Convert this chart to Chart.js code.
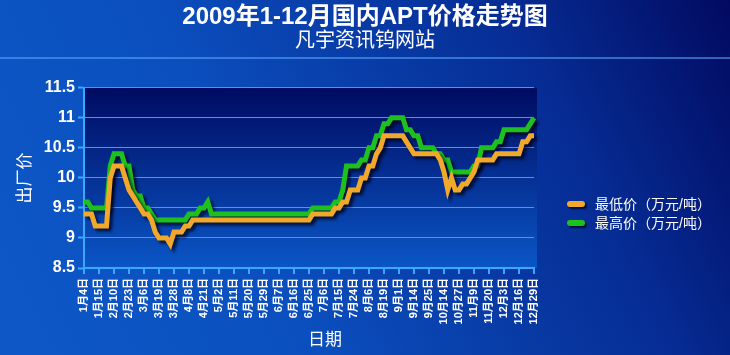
<!DOCTYPE html>
<html><head><meta charset="utf-8">
<script src="https://cdn.jsdelivr.net/npm/chart.js@4.4.0/dist/chart.umd.min.js"></script>
<style>html,body{margin:0;padding:0;background:#0a3aa8;overflow:hidden}#wrap{width:730px;height:355px;position:relative}</style>
</head><body><div id="wrap"><canvas id="c" width="730" height="355"></canvas></div>
<script>
const tickLabels = ['1月4日','1月15日','2月10日','2月23日','3月6日','3月19日','3月28日','4月8日','4月21日','5月2日','5月11日','5月20日','5月29日','6月7日','6月16日','6月25日','7月6日','7月15日','7月24日','8月6日','8月19日','9月1日','9月14日','9月25日','10月14日','10月27日','11月9日','11月20日','12月3日','12月16日','12月29日'];
const pointsPerLabel = 4;
const lowPrice = [
9.4,9.4,9.4,
9.2,9.2,9.2,9.2,
10.0,
10.2,10.2,10.2,
10.0,9.8,9.7,9.6,9.5,
9.4,9.4,9.3,9.1,
9.0,9.0,9.0,8.9,
9.1,9.1,9.1,9.2,9.2,
9.3,9.3,9.3,9.3,9.3,9.3,9.3,9.3,9.3,9.3,9.3,9.3,9.3,9.3,9.3,9.3,9.3,9.3,9.3,9.3,9.3,9.3,9.3,9.3,9.3,9.3,9.3,9.3,9.3,9.3,9.3,9.3,
9.4,9.4,9.4,9.4,9.4,9.4,
9.5,9.5,9.6,9.6,
9.8,9.8,9.8,10.0,10.0,10.2,10.2,10.4,10.5,
10.7,10.7,10.7,10.7,10.7,10.7,
10.6,10.5,
10.4,10.4,10.4,10.4,10.4,10.4,10.4,
10.3,10.1,9.8,10.0,9.8,9.8,9.9,9.9,10.0,10.1,
10.3,10.3,10.3,10.3,10.3,
10.4,10.4,10.4,10.4,10.4,10.4,10.4,
10.6,10.6,10.7,10.7
];
const highPrice = [
9.6,9.6,
9.5,9.5,9.5,9.5,9.5,
10.2,
10.4,10.4,10.4,
10.2,10.2,9.8,9.7,9.7,
9.5,9.5,9.4,
9.3,9.3,9.3,9.3,9.3,9.3,9.3,9.3,9.3,
9.4,9.4,9.4,9.5,9.5,9.6,
9.4,9.4,9.4,9.4,9.4,9.4,9.4,9.4,9.4,9.4,9.4,9.4,9.4,9.4,9.4,9.4,9.4,9.4,9.4,9.4,9.4,9.4,9.4,9.4,9.4,9.4,9.4,
9.5,9.5,9.5,9.5,9.5,9.5,
9.6,9.6,9.8,
10.2,10.2,10.2,10.2,10.3,10.3,10.5,10.5,10.7,10.7,10.9,10.9,
11.0,11.0,11.0,11.0,
10.8,10.8,10.7,10.7,
10.5,10.5,10.5,10.5,10.4,10.4,10.3,10.3,
10.1,10.1,10.1,10.1,10.1,10.1,
10.2,10.2,
10.5,10.5,10.5,10.5,
10.6,10.6,
10.8,10.8,10.8,10.8,10.8,10.8,10.8,
10.9,11.0
];
const seriesNames = ['最低价（万元/吨）','最高价（万元/吨）'];
const yTicks = [8.5, 9, 9.5, 10, 10.5, 11, 11.5];
const xTitle = '日期';

const categories = lowPrice.map((_, i) => (i % pointsPerLabel === 0 ? tickLabels[i / pointsPerLabel] : ''));
const FONT = "Arial, 'Liberation Sans', 'Noto Sans CJK SC', sans-serif";
const AXIS = '#3aa8ff';

const bgPlugin = {
  id: 'bg',
  beforeDraw(chart) {
    const ctx = chart.ctx, w = chart.width, h = chart.height;
    ctx.save();
    const g = ctx.createLinearGradient(0, h, w, 0);
    g.addColorStop(0, '#0d58c8');
    g.addColorStop(0.35, '#0b4fbe');
    g.addColorStop(0.75, '#062c94');
    g.addColorStop(1, '#020a60');
    ctx.fillStyle = g;
    ctx.fillRect(0, 0, w, h);
    ctx.fillStyle = 'rgba(90,170,255,0.55)';
    ctx.fillRect(0, 57, w, 2);
    const a = chart.chartArea;
    const pg = ctx.createLinearGradient(0, a.top, 0, a.bottom);
    pg.addColorStop(0, '#000b62');
    pg.addColorStop(1, '#0a56c6');
    ctx.fillStyle = pg;
    ctx.fillRect(a.left, a.top, a.right - a.left + 3, a.bottom - a.top);
    ctx.restore();
  },
  beforeDatasetsDraw(chart) {
    const ctx = chart.ctx;
    ctx.save();
    ctx.shadowColor = 'rgba(0,0,20,0.7)';
    ctx.shadowOffsetX = 3;
    ctx.shadowOffsetY = 3;
    ctx.shadowBlur = 3;
  },
  afterDatasetsDraw(chart) {
    chart.ctx.restore();
  },
  afterDraw(chart) {
    const ctx = chart.ctx;
    ctx.save();
    chart.data.datasets.forEach((ds, i) => {
      const y = 204 + i * 19;
      ctx.save();
      ctx.shadowColor = 'rgba(0,0,20,0.7)';
      ctx.shadowOffsetX = 2; ctx.shadowOffsetY = 2; ctx.shadowBlur = 2;
      ctx.fillStyle = ds.borderColor;
      ctx.beginPath();
      ctx.roundRect(567, y - 3, 18, 6, 3);
      ctx.fill();
      ctx.restore();
      ctx.fillStyle = '#ffffff';
      ctx.font = '14px ' + FONT;
      ctx.textBaseline = 'middle';
      ctx.textAlign = 'left';
      ctx.fillText(ds.label, 595, y + 1);
    });
    ctx.fillStyle = '#ffffff';
    ctx.font = '17px ' + FONT;
    ctx.textAlign = 'center';
    ctx.textBaseline = 'middle';
    ctx.fillText(xTitle, 325, 340);
    ctx.restore();
  }
};

new Chart(document.getElementById('c'), {
  type: 'line',
  data: {
    labels: categories,
    datasets: [
      { label: seriesNames[0], data: lowPrice, borderColor: '#f2a82a', backgroundColor: '#f2a82a', borderWidth: 5, pointRadius: 0, tension: 0, clip: false, borderJoinStyle: 'miter' },
      { label: seriesNames[1], data: highPrice, borderColor: '#1ec01e', backgroundColor: '#1ec01e', borderWidth: 5, pointRadius: 0, tension: 0, clip: false, borderJoinStyle: 'miter' }
    ]
  },
  options: {
    responsive: false,
    animation: false,
    devicePixelRatio: 1,
    layout: { padding: { left: 0, right: 0, top: 0, bottom: 0 } },
    plugins: {
      legend: { display: false },
      tooltip: { enabled: false },
      title: { display: true, text: '2009年1-12月国内APT价格走势图', color: '#ffffff', font: { family: FONT, size: 24, weight: 'bold', lineHeight: 1.2 }, padding: { top: 3, bottom: 0 } },
      subtitle: { display: true, text: '凡宇资讯钨网站', color: '#ffffff', font: { family: FONT, size: 20, weight: 'normal', lineHeight: 1.0 }, padding: { top: 0, bottom: 36 } }
    },
    scales: {
      x: {
        type: 'category',
        offset: false,
        grid: { drawOnChartArea: false, drawTicks: true, tickLength: 6, lineWidth: 2, color: (c) => (categories[c.index] ? AXIS : 'rgba(0,0,0,0)') },
        border: { color: AXIS, width: 2 },
        ticks: { autoSkip: false, maxRotation: 90, minRotation: 90, color: '#ffffff', padding: 4, font: { family: FONT, size: 11, weight: 'bold' } },
        title: { display: false },
        afterFit(s) { s.height = 87; }
      },
      y: {
        min: yTicks[0],
        max: yTicks[yTicks.length - 1],
        grid: { color: '#3c9cf2', lineWidth: 1, tickLength: 6, tickColor: AXIS, tickWidth: 2 },
        border: { color: AXIS, width: 2 },
        ticks: { stepSize: 0.25, color: '#ffffff', padding: 3, font: { family: FONT, size: 16, weight: 'bold' },
          callback: (v) => (yTicks.some(t => Math.abs(t - v) < 1e-6) ? String(+v.toFixed(2)) : '') },
        title: { display: true, text: '出厂价', color: '#ffffff', font: { family: FONT, size: 17 }, padding: { top: 15, bottom: 0 } },
        afterFit(s) { s.width = 84; }
      },
      legendSpace: {
        type: 'linear',
        position: 'right',
        display: true,
        grid: { display: false, drawTicks: false },
        border: { display: false },
        ticks: { display: false },
        afterFit(s) { s.width = 196; }
      }
    }
  },
  plugins: [bgPlugin]
});
</script></body></html>
